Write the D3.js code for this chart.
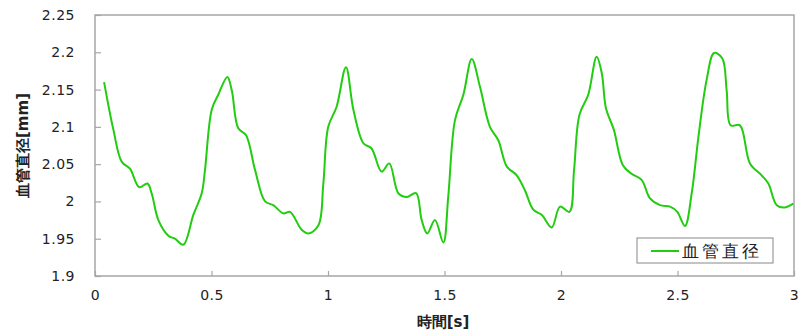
<!DOCTYPE html>
<html>
<head>
<meta charset="utf-8">
<script src="https://cdn.jsdelivr.net/npm/d3@7"></script>
<style>
  body { margin: 0; background: #fff; }
  text { font-family: "DejaVu Sans", Verdana, sans-serif; }
</style>
</head>
<body>
<div id="graph"></div>
<script>
// time [s]
var times = [0.039, 0.079, 0.115, 0.150, 0.190, 0.225, 0.243, 0.272, 0.315, 0.343, 0.379, 0.422, 0.458, 0.472,
  0.501, 0.529, 0.568, 0.587, 0.615, 0.648, 0.687, 0.730, 0.765, 0.808, 0.837, 0.887, 0.916, 0.959, 0.980,
  1.001, 1.037, 1.077, 1.109, 1.152, 1.187, 1.230, 1.263, 1.302, 1.338, 1.378, 1.402, 1.426, 1.459, 1.495,
  1.516, 1.545, 1.581, 1.617, 1.652, 1.695, 1.731, 1.767, 1.810, 1.845, 1.881, 1.917, 1.960, 1.996, 2.036,
  2.056, 2.079, 2.117, 2.153, 2.175, 2.193, 2.227, 2.265, 2.303, 2.346, 2.382, 2.425, 2.468, 2.499, 2.532,
  2.561, 2.590, 2.625, 2.657, 2.692, 2.711, 2.728, 2.768, 2.811, 2.861, 2.890, 2.926, 2.961, 2.997];
// vessel diameter [mm]
var diam = [2.160, 2.096, 2.053, 2.044, 2.019, 2.024, 2.011, 1.975, 1.954, 1.950, 1.942, 1.982, 2.011, 2.042,
  2.123, 2.143, 2.167, 2.149, 2.098, 2.089, 2.042, 2.000, 1.995, 1.984, 1.986, 1.962, 1.957, 1.968, 2.024,
  2.100, 2.127, 2.180, 2.123, 2.078, 2.071, 2.040, 2.051, 2.011, 2.006, 2.011, 1.975, 1.957, 1.975, 1.945,
  2.006, 2.109, 2.143, 2.191, 2.154, 2.100, 2.082, 2.047, 2.035, 2.015, 1.989, 1.982, 1.965, 1.993, 1.986,
  2.042, 2.116, 2.143, 2.194, 2.172, 2.125, 2.096, 2.049, 2.037, 2.029, 2.004, 1.995, 1.993, 1.986, 1.967,
  2.011, 2.087, 2.163, 2.199, 2.192, 2.149, 2.102, 2.102, 2.051, 2.035, 2.024, 1.995, 1.992, 1.997];
var xTicks = [0, 0.5, 1, 1.5, 2, 2.5, 3];
var yTicks = [1.9, 1.95, 2, 2.05, 2.1, 2.15, 2.2, 2.25];
var seriesName = "血管直径";

var W = 802, H = 336;
var pl = 95, pr = 794, pt = 15, pb = 276;

var svg = d3.select("#graph").append("svg")
  .attr("width", W)
  .attr("height", H);

var xscale = d3.scaleLinear().domain([0, 3]).range([pl, pr]);
var yscale = d3.scaleLinear().domain([1.9, 2.25]).range([pb, pt]);

// frame
svg.append("rect")
  .attr("x", pl).attr("y", pt)
  .attr("width", pr - pl).attr("height", pb - pt)
  .attr("fill", "none")
  .attr("stroke", "#a6a6a6")
  .attr("stroke-width", 1.5);

// y axis
var yAxis = svg.append("g")
  .attr("transform", "translate(" + pl + ",0)")
  .call(d3.axisLeft(yscale).tickValues(yTicks).tickSize(-6).tickPadding(20)
    .tickFormat(function(d) { return String(+d.toFixed(2)); }));
yAxis.select(".domain").remove();
yAxis.selectAll("line").attr("stroke", "#a6a6a6").attr("stroke-width", 1.2);
yAxis.selectAll("text").attr("font-size", 14).attr("letter-spacing", 0.5).attr("fill", "#222");

// x axis
var xAxis = svg.append("g")
  .attr("transform", "translate(0," + pb + ")")
  .call(d3.axisBottom(xscale).tickValues(xTicks).tickSize(-5).tickPadding(14)
    .tickFormat(function(d) { return String(d); }));
xAxis.select(".domain").remove();
xAxis.selectAll("line").attr("stroke", "#a6a6a6").attr("stroke-width", 1.2);
xAxis.selectAll("text").attr("font-size", 14).attr("letter-spacing", 0.5).attr("fill", "#222");

// line
var pts = times.map(function(t, i) { return [t, diam[i]]; });
var line = d3.line()
  .x(function(d) { return xscale(d[0]); })
  .y(function(d) { return yscale(d[1]); })
  .curve(d3.curveCatmullRom.alpha(0.5));

svg.append("path")
  .datum(pts)
  .attr("d", line)
  .attr("fill", "none")
  .attr("stroke", "#22cc11")
  .attr("stroke-width", 2);

// axis titles
svg.append("text")
  .attr("x", 443)
  .attr("y", 327)
  .attr("text-anchor", "middle")
  .attr("font-size", 15)
  .attr("font-weight", "bold")
  .attr("fill", "#222")
  .text("時間[s]");

svg.append("text")
  .attr("transform", "translate(28," + ((pt + pb) / 2) + ") rotate(-90)")
  .attr("text-anchor", "middle")
  .attr("font-size", 15)
  .attr("font-weight", "bold")
  .attr("fill", "#222")
  .text("血管直径[mm]");

// legend
var lg = svg.append("g").attr("transform", "translate(637,238)");
lg.append("rect")
  .attr("width", 136).attr("height", 25)
  .attr("fill", "#fff")
  .attr("stroke", "#888")
  .attr("stroke-width", 1);
lg.append("line")
  .attr("x1", 14).attr("x2", 42).attr("y1", 13).attr("y2", 13)
  .attr("stroke", "#22cc11").attr("stroke-width", 2);
lg.append("text")
  .attr("x", 45).attr("y", 19)
  .attr("font-size", 17)
  .attr("letter-spacing", 3)
  .attr("fill", "#222")
  .text(seriesName);
</script>
</body>
</html>
